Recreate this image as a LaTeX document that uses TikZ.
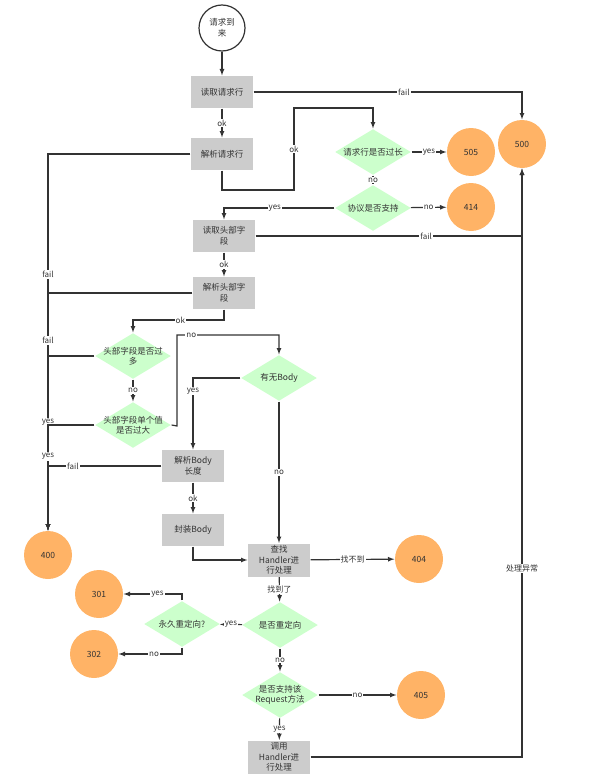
\documentclass[tikz,border=0pt]{standalone}
\usepackage{fontspec}
\setmainfont{Noto Sans CJK SC}
\usepackage{tikz}
\usetikzlibrary{arrows}
\usetikzlibrary{shapes.geometric}

\definecolor{boxgray}{HTML}{CCCCCC}
\definecolor{diagreen}{HTML}{CCFFCC}
\definecolor{endorange}{HTML}{FFB366}
\definecolor{linegray}{HTML}{333333}

\begin{document}
\begin{tikzpicture}[x=1pt,y=-1pt,>=latex,color=linegray,line width=1.2pt,
  every node/.style={font=\fontsize{8.5}{10.5}\selectfont, text=linegray},
  box/.style={rectangle, fill=boxgray, minimum width=62pt, minimum height=32pt, inner sep=0pt, align=center},
  dia/.style={diamond, fill=diagreen, minimum width=76pt, minimum height=46pt, inner sep=0pt},
  code/.style={circle, fill=endorange, minimum size=48pt, inner sep=0pt},
  lab/.style={fill=white, inner sep=1pt, font=\fontsize{8}{9}\selectfont}]

\useasboundingbox (0,0) rectangle (591,776);

% nodes
\node [circle, draw=linegray, fill=white, minimum size=46pt, inner sep=0pt, align=center] (start) at (222,28) {请求到\\来};
\node [box] (rl) at (222,92) {读取请求行};
\node [box] (pl) at (222,154) {解析请求行};
\node [dia, label={[align=center]center:请求行是否过长}] (d1) at (373,152) {};
\node [dia, label={[align=center]center:协议是否支持}] (d2) at (373,208) {};
\node [code] (c505) at (471,152) {505};
\node [code] (c414) at (471,207) {414};
\node [code] (c500) at (522,144) {500};
\node [box] (rh) at (224,236) {读取头部字\\段};
\node [box] (ph) at (224,293) {解析头部字\\段};
\node [dia, label={[align=center]center:头部字段是否过\\多}] (d3) at (133,356) {};
\node [dia, label={[align=center]center:头部字段单个值\\是否过大}] (d4) at (133,425) {};
\node [dia, label={[align=center]center:有无Body}] (d5) at (279,378) {};
\node [code] (c400) at (48,555) {400};
\node [box] (pb) at (193,466) {解析Body\\长度};
\node [box] (pk) at (193,530) {封装Body};
\node [box, minimum height=33pt] (fh) at (279,560) {查找\\Handler进\\行处理};
\node [code] (c404) at (419,559) {404};
\node [dia, label={[align=center]center:是否重定向}] (d6) at (280,625) {};
\node [dia, label={[align=center]center:永久重定向?}] (d7) at (182,624) {};
\node [code] (c301) at (99,594) {301};
\node [code] (c302) at (94,654) {302};
\node [dia, label={[align=center]center:是否支持该\\Request方法}] (d8) at (280,695) {};
\node [code] (c405) at (421,695) {405};
\node [box, minimum height=33pt] (call) at (279,757) {调用\\Handler进\\行处理};

% request line
\draw [->] (start) -- (rl);
\draw [->] (rl) -- node[lab]{ok} (pl);
\draw [->] (rl.east) -| node[lab, pos=.28]{fail} (c500.north);
\draw [->] (pl.south) -- (222,190) -- (294,190) -- node[lab]{ok} (294,108) -| (d1.north);
\draw [->] (d1) -- node[lab]{yes} (c505);
\draw (d1) -- node[lab]{no} (d2);
\draw [->] (d2) -- node[lab]{no} (c414);
\draw [->] (d2.west) -| node[lab, pos=.27]{yes} (rh.north);

% header fields
\draw [->] (rh.east) -| node[lab, pos=.32]{fail} (c500.south);
\draw [->] (rh) -- node[lab]{ok} (ph);
\draw [->] (ph.south) -- (224,320) -| node[lab, pos=.24]{ok} (d3.north);
\draw [->] (d3) -- node[lab]{no} (d4);
\draw [->] (d4.east) -- (177,426) -- (177,335) -- node[lab, pos=.14]{no} (279,335) -- (d5.north);

% 400
\draw [->] (pl.west) -| node[lab, pos=.66]{fail} (c400.north);
\draw [->] (ph.west) -| node[lab, pos=.6]{fail} (c400.north);
\draw [->] (d3.west) -| node[lab, pos=.69]{yes} (c400.north);
\draw [->] (d4.west) -| node[lab, pos=.65]{yes} (c400.north);
\draw [->] (pb.west) -| node[lab, pos=.39]{fail} (c400.north);

% body
\draw [->] (d5.west) -| node[lab, pos=.59]{yes} (pb.north);
\draw [->] (d5.south) -- node[lab]{no} (fh.north);
\draw [->] (pb) -- node[lab]{ok} (pk);
\draw [->] (pk.south) |- (fh.west);

% handler
\draw [->] (fh) -- node[lab]{找不到} (c404);
\draw [->] (fh) -- node[lab]{找到了} (d6);
\draw [->] (d6) -- node[lab]{yes} (d7);
\draw [->] (d7.north) |- node[lab, pos=.71]{yes} (c301);
\draw [->] (d7.south) |- node[lab, pos=.72]{no} (c302);
\draw [->] (d6) -- node[lab]{no} (d8);
\draw [->] (d8) -- node[lab]{no} (c405);
\draw [->] (d8) -- node[lab]{yes} (call);
\draw [->] (call.east) -| node[lab, pos=.66]{处理异常} (c500.south);
\end{tikzpicture}
\end{document}
